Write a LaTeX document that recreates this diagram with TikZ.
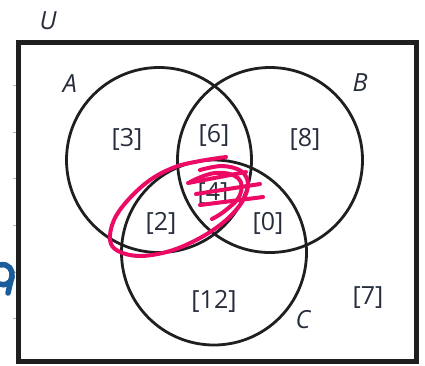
\documentclass[tikz,border=0pt]{standalone}
\usepackage{fontspec}
\setmainfont{Open Sans}
\definecolor{txt}{HTML}{262D3C}
\definecolor{pinkpen}{HTML}{EC0A64}
\definecolor{bluepen}{HTML}{1B5C9A}
\begin{document}
\begin{tikzpicture}[x=1pt,y=-1pt,
  setcircle/.style={draw=black!88,line width=2.8pt},
  lab/.style={text=txt,font=\fontsize{25}{28}\selectfont\itshape,inner sep=0pt},
  num/.style={text=txt,font=\fontsize{25}{28}\selectfont,inner sep=0pt},
  pen/.style={draw=pinkpen,line width=4pt,line cap=round,line join=round},
  tick/.style={draw=black!30,line width=0.6pt}]
\useasboundingbox (0,0) rectangle (425,365);
% universe
\draw[line width=5pt,black!88] (18,42.5) rectangle (416.5,361.5);
\foreach \y in {85,132,178,225,272,318} \draw[tick] (13,\y) -- (16,\y);
% circles
\node[setcircle,circle,minimum size=185pt,inner sep=0pt] (A) at (159,160) {};
\node[setcircle,circle,minimum size=185pt,inner sep=0pt] (B) at (270,160) {};
\node[setcircle,circle,minimum size=185pt,inner sep=0pt] (C) at (214,252.5) {};
% labels
\node[lab] (U) at (48,21) {U};
\node[lab] (la) at (70,84) {A};
\node[lab] (lb) at (360,83) {B};
\node[lab] (lc) at (303,320) {C};
% counts
\node[num] (n3) at (127,139) {[3]};
\node[num] (n6) at (214,135) {[6]};
\node[num] (n8) at (305,139) {[8]};
\node[num] (n4) at (213,193) {[4]};
\node[num] (n2) at (161,223) {[2]};
\node[num] (n0) at (268,223) {[0]};
\node[num] (n12) at (214,301) {[12]};
\node[num] (n7) at (368,298) {[7]};
% pink annotation
\draw[pen] plot[smooth,tension=0.6] coordinates {(226,157) (200,161) (175,167) (150,180) (128,200) (114,220) (110,240) (118,251) (140,256) (170,251) (200,238) (225,221) (242,202) (248,184) (241,171) (222,166) (200,170)};
\draw[pen] (188,183) -- (246,172);
\draw[pen] (196,194) -- (260,184);
\draw[pen] (200,205) -- (263,197);
\draw[pen] plot[smooth,tension=0.7] coordinates {(190,182) (215,173) (238,178) (240,195) (226,210) (212,219)};
% blue mark
\draw[bluepen,line width=5.5pt,line cap=round] (0,265) .. controls (9,263) and (13,270) .. (12,277) .. controls (11,284) and (4,286) .. (0,284);
\draw[bluepen,line width=5.5pt,line cap=round] (12,276) -- (8,293);
\end{tikzpicture}
\end{document}
